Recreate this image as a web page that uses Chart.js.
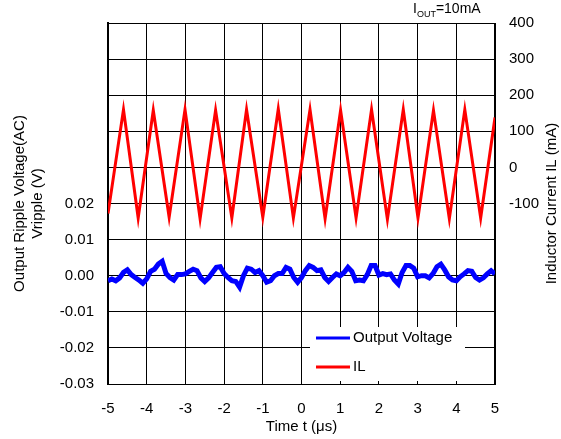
<!DOCTYPE html>
<html>
<head>
<meta charset="utf-8">
<script src="https://cdn.jsdelivr.net/npm/chart.js@4/dist/chart.umd.min.js"></script>
<style>
  html, body { margin: 0; padding: 0; background: #fff; }
</style>
</head>
<body>
<canvas id="chart" width="561" height="439"></canvas>
<script>
// output ripple voltage (V) vs time (us)
const timeV = [-5.0, -4.9, -4.8, -4.7, -4.6, -4.5, -4.4, -4.3, -4.2, -4.1,
  -4.0, -3.9, -3.8, -3.7, -3.6, -3.5, -3.4, -3.3, -3.2, -3.1,
  -3.0, -2.9, -2.8, -2.7, -2.6, -2.5, -2.4, -2.3, -2.2, -2.1,
  -2.0, -1.9, -1.8, -1.7, -1.6, -1.5, -1.4, -1.3, -1.2, -1.1,
  -1.0, -0.9, -0.8, -0.7, -0.6, -0.5, -0.4, -0.3, -0.2, -0.1,
  0.0, 0.1, 0.2, 0.3, 0.4, 0.5, 0.6, 0.7, 0.8, 0.9,
  1.0, 1.1, 1.2, 1.3, 1.4, 1.5, 1.6, 1.7, 1.8, 1.9,
  2.0, 2.1, 2.2, 2.3, 2.4, 2.5, 2.6, 2.7, 2.8, 2.9,
  3.0, 3.1, 3.2, 3.3, 3.4, 3.5, 3.6, 3.7, 3.8, 3.9,
  4.0, 4.1, 4.2, 4.3, 4.4, 4.5, 4.6, 4.7, 4.8, 4.9, 5.0];
const rippleV = [-0.0014, -0.0009, -0.0014, -0.0006, 0.0009, 0.0016, 0.0003, -0.0005, -0.0012, -0.0021,
  -0.0009, 0.0012, 0.0018, 0.0032, 0.0040, 0.0006, -0.0005, -0.0012, 0.0003, 0.0003,
  0.0005, 0.0012, 0.0018, 0.0014, -0.0006, -0.0016, -0.0006, 0.0009, 0.0023, 0.0025,
  0.0006, -0.0005, -0.0014, -0.0016, -0.0032, 0.0000, 0.0021, 0.0018, 0.0009, 0.0014,
  0.0000, -0.0018, -0.0014, 0.0000, 0.0006, 0.0006, 0.0023, 0.0018, -0.0005, -0.0018,
  -0.0005, 0.0014, 0.0028, 0.0023, 0.0014, 0.0016, -0.0005, -0.0016, -0.0005, 0.0005,
  0.0000, 0.0009, 0.0023, 0.0012, -0.0014, -0.0012, -0.0014, 0.0003, 0.0028, 0.0028,
  0.0002, 0.0006, 0.0003, 0.0005, -0.0012, -0.0023, 0.0009, 0.0028, 0.0028, 0.0021,
  -0.0003, 0.0000, 0.0000, -0.0006, 0.0006, 0.0025, 0.0032, 0.0016, -0.0003, -0.0012,
  -0.0014, -0.0003, 0.0005, 0.0014, 0.0012, -0.0005, -0.0012, -0.0006, 0.0005, 0.0014, 0.0005];

// inductor current (mA) – peaks and valleys of the triangle wave
const timeIL = [-5.0, -4.60, -4.22, -3.83, -3.42, -3.01, -2.62, -2.22, -1.80, -1.42,
  -1.00, -0.60, -0.21, 0.22, 0.61, 1.01, 1.41, 1.81, 2.22, 2.63,
  3.01, 3.41, 3.82, 4.22, 4.63, 5.0];
const currentIL = [-128, 160, -140, 158, -138, 160, -142, 158, -140, 160,
  -138, 162, -140, 160, -142, 158, -140, 160, -144, 160,
  -140, 158, -142, 160, -140, 138];

const xTicks = [-5, -4, -3, -2, -1, 0, 1, 2, 3, 4, 5];

const toPoints = (xs, ys) => xs.map((x, i) => ({ x: x, y: ys[i] }));

Chart.defaults.font.family = '"Liberation Sans", Arial, sans-serif';
Chart.defaults.font.size = 15;
Chart.defaults.color = '#000';

const extras = {
  id: 'extras',
  beforeDatasetsDraw(chart) {
    // plot frame (top edge included)
    const ctx = chart.ctx, a = chart.chartArea;
    ctx.save();
    ctx.strokeStyle = '#000';
    ctx.lineWidth = 1;
    ctx.strokeRect(a.left + 0.5, a.top + 0.5, a.right - a.left - 1, a.bottom - a.top);
    ctx.restore();
  },
  afterDatasetsDraw(chart) {
    const ctx = chart.ctx;
    const a = chart.chartArea;
    ctx.save();

    // legend box inside the plot
    const lx = a.right - 185, ly = a.bottom - 57;
    ctx.fillStyle = '#fff';
    ctx.fillRect(lx, ly, 155, 54);
    ctx.font = '15px "Liberation Sans", Arial, sans-serif';
    ctx.textBaseline = 'middle';
    chart.data.datasets.forEach((ds, i) => {
      const y = ly + 11 + i * 29;
      ctx.strokeStyle = ds.borderColor;
      ctx.lineWidth = 3;
      ctx.beginPath();
      ctx.moveTo(lx + 6, y);
      ctx.lineTo(lx + 40, y);
      ctx.stroke();
      ctx.fillStyle = '#000';
      ctx.textAlign = 'left';
      ctx.fillText(ds.label, lx + 43, y);
    });

    // right axis title, reads bottom to top
    ctx.translate(552, (a.top + a.bottom) / 2);
    ctx.rotate(-Math.PI / 2);
    ctx.textAlign = 'center';
    ctx.fillText('Inductor Current IL (mA)', 0, 0);
    ctx.restore();

    // condition label
    ctx.save();
    ctx.fillStyle = '#000';
    ctx.textBaseline = 'alphabetic';
    ctx.textAlign = 'left';
    let x = 413;
    ctx.font = '14px "Liberation Sans", Arial, sans-serif';
    ctx.fillText('I', x, 13);
    x += ctx.measureText('I').width;
    ctx.font = '9px "Liberation Sans", Arial, sans-serif';
    ctx.fillText('OUT', x, 17);
    x += ctx.measureText('OUT').width;
    ctx.font = '14px "Liberation Sans", Arial, sans-serif';
    ctx.fillText('=10mA', x, 13);
    ctx.restore();
  }
};

new Chart(document.getElementById('chart'), {
  type: 'line',
  data: {
    datasets: [{
      label: 'Output Voltage',
      data: toPoints(timeV, rippleV),
      borderColor: '#0000ff',
      borderWidth: 5,
      pointRadius: 0,
      tension: 0,
      yAxisID: 'y'
    }, {
      label: 'IL',
      data: toPoints(timeIL, currentIL),
      borderColor: '#ff0000',
      borderWidth: 3,
      pointRadius: 0,
      tension: 0,
      yAxisID: 'y1'
    }]
  },
  options: {
    responsive: false,
    animation: false,
    devicePixelRatio: 1,
    layout: { padding: { top: 20 } },
    plugins: { legend: { display: false }, tooltip: { enabled: false } },
    scales: {
      x: {
        type: 'linear',
        min: -5, max: 5,
        afterBuildTicks: s => { s.ticks = xTicks.map(v => ({ value: v })); },
        afterFit: s => { s.height = 55; },
        grid: { color: '#000', lineWidth: 1, drawTicks: false },
        border: { color: '#000', width: 1 },
        ticks: { padding: 16, maxRotation: 0 },
        title: { display: true, text: 'Time t (μs)', padding: { top: 0, bottom: 3 } }
      },
      y: {
        position: 'left',
        min: -0.03, max: 0.07,
        afterFit: s => { s.width = 108; },
        grid: { color: '#000', lineWidth: 1, drawTicks: false },
        border: { color: '#000', width: 2 },
        ticks: {
          stepSize: 0.01,
          padding: 14,
          callback: v => v <= 0.0201 ? (Math.abs(v) < 1e-9 ? 0 : v).toFixed(2) : ''
        },
        title: {
          display: true,
          text: ['Output Ripple Voltage(AC)', 'Vripple (V)'],
          padding: { top: 11, bottom: 0 }
        }
      },
      y1: {
        position: 'right',
        min: -600, max: 400,
        afterFit: s => { s.width = 66; },
        grid: { drawOnChartArea: false, drawTicks: false },
        border: { color: '#000', width: 1 },
        ticks: {
          stepSize: 100,
          padding: 14,
          callback: v => (v >= -100 && v <= 400) ? String(v) : ''
        }
      }
    }
  },
  plugins: [extras]
});
</script>
</body>
</html>
